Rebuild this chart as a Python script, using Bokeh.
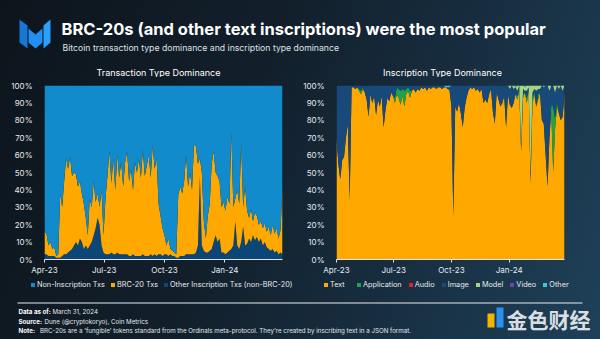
import pandas as pd
from bokeh.plotting import figure
from bokeh.models import (ColumnDataSource, Range1d, FixedTicker, PrintfTickFormatter,
                          DatetimeTickFormatter, Legend, LegendItem)
from bokeh.layouts import column, row
from bokeh.embed import file_html
from bokeh.resources import INLINE
from bokeh.core.properties import value

FONT = "Inter"
TXT = "#e6eaee"

# ---------------- data (one sample every 3 days from 2023-04-01) ----------------
START_DATE = "2023-04-01"
STEP = "3D"

# Transaction type dominance (% of all Bitcoin transactions)
other_insc_txs = [
    3, 3, 2, 2, 2, 2, 1, 1, 1, 2,
    3, 3, 4, 5, 6, 8, 10, 8, 12, 10,
    6, 8, 6, 8, 10, 14, 18, 24, 20, 8,
    4, 3, 3, 3, 4, 3, 3, 4, 3, 3,
    3, 3, 3, 2, 2, 3, 2, 2, 2, 2,
    3, 2, 2, 2, 3, 2, 3, 2, 3, 3,
    2, 3, 3, 2, 3, 2, 2, 1, 1, 2,
    2, 2, 3, 3, 3, 3, 3, 4, 8, 48,
    8, 5, 4, 4, 5, 6, 10, 14, 10, 12,
    4, 4, 3, 4, 5, 6, 8, 22, 8, 6,
    10, 19, 8, 9, 12, 10, 14, 11, 13, 10,
    12, 8, 10, 7, 6, 5, 6, 4, 5, 3,
    4, 3]
brc20_txs = [
    13, 12, 6, 8, 4, 5, 1, 2, 37, 28,
    42, 55, 48, 54, 42, 42, 39, 34, 33, 28,
    26, 16, 8, 27, 20, 31, 15, 14, 10, 32,
    10, 32, 45, 59, 40, 55, 37, 56, 44, 53,
    39, 53, 59, 43, 50, 37, 54, 48, 56, 45,
    60, 46, 52, 58, 44, 64, 49, 56, 29, 22,
    16, 11, 5, 10, 3, 3, 2, 2, 36, 40,
    36, 43, 57, 39, 47, 37, 63, 61, 47, 10,
    42, 17, 8, 21, 27, 49, 52, 36, 38, 33,
    26, 29, 25, 32, 27, 67, 22, 13, 32, 26,
    57, 11, 34, 19, 12, 19, 8, 16, 12, 10,
    10, 10, 11, 9, 13, 9, 14, 11, 13, 9,
    13, 39]

# Inscription type dominance (% of inscriptions)
text_insc = [
    70, 55, 46, 57, 59, 70, 78, 34, 99, 99,
    98, 99, 97, 95, 98, 96, 92, 82, 95, 90,
    94, 83, 92, 88, 94, 76, 86, 93, 91, 96,
    94, 90, 95, 93, 89, 94, 88, 95, 97, 93,
    97, 98, 96, 98, 97, 99, 98, 99, 97, 99,
    98, 99, 99, 98, 99, 99, 98, 99, 99, 98,
    97, 88, 25, 88, 85, 90, 84, 76, 87, 93,
    97, 99, 98, 99, 97, 98, 96, 98, 90, 92,
    90, 95, 98, 85, 78, 96, 92, 88, 90, 94,
    76, 95, 89, 87, 90, 95, 92, 97, 62, 93,
    96, 90, 97, 44, 90, 95, 88, 92, 96, 80,
    78, 60, 42, 70, 85, 50, 75, 88, 84, 80,
    82, 95]
application_insc = [
    0, 0, 0, 0, 0, 0, 0, 0, 0, 0,
    0, 0, 1, 2, 1, 0, 0, 0, 0, 0,
    0, 0, 0, 0, 0, 0, 0, 0, 0, 0,
    0, 3, 4, 5, 8, 4, 9, 3, 2, 4,
    0, 0, 0, 0, 0, 0, 0, 0, 0, 0,
    0, 0, 0, 0, 0, 0, 0, 0, 0, 0,
    1, 0, 0, 0, 0, 0, 0, 0, 0, 0,
    0, 0, 0, 0, 0, 0, 0, 0, 0, 0,
    0, 0, 0, 0, 0, 0, 0, 0, 0, 0,
    0, 0, 0, 0, 0, 0, 2, 1, 0, 2,
    0, 3, 0, 0, 2, 2, 0, 3, 0, 0,
    0, 0, 0, 0, 4, 38, 6, 3, 0, 0,
    0, 0]
audio_insc = [
    0, 0, 0, 0, 0, 0, 0, 0, 0, 0,
    0, 0, 0, 0, 0, 0, 0, 0, 0, 0,
    0, 0, 0, 0, 0, 0, 0, 0, 0, 0,
    0, 0, 0, 0, 0, 0, 0, 0, 0, 0,
    0, 0, 0, 0, 0, 0, 0, 0, 0, 0,
    0, 0, 0, 0, 0, 0, 0, 0, 0, 0,
    0, 0, 0, 0, 0, 0, 0, 0, 0, 0,
    0, 0, 0, 0, 0, 0, 0, 0, 0, 0,
    0, 0, 0, 0, 0, 0, 0, 0, 0, 0,
    0, 0, 0, 0, 0, 0, 0, 0, 0, 0,
    0, 0, 0, 0, 0, 0, 0, 0, 0, 0,
    0, 0, 0, 0, 0, 0, 0, 0, 0, 0,
    0, 0]
model_insc = [
    0, 0, 0, 0, 0, 0, 0, 0, 0, 0,
    0, 0, 0, 0, 0, 0, 0, 0, 0, 0,
    0, 0, 0, 0, 0, 0, 0, 0, 0, 0,
    0, 0, 0, 0, 0, 0, 0, 0, 0, 0,
    0, 0, 0, 0, 0, 0, 0, 0, 0, 0,
    0, 0, 0, 0, 0, 0, 0, 0, 0, 0,
    0, 0, 0, 0, 0, 0, 0, 0, 0, 0,
    0, 0, 0, 0, 0, 0, 0, 0, 0, 0,
    0, 0, 0, 0, 0, 0, 0, 0, 0, 0,
    0, 0, 2, 0, 2, 0, 3, 0, 34, 2,
    2, 3, 1, 50, 4, 2, 3, 2, 2, 0,
    0, 0, 0, 3, 0, 0, 4, 0, 2, 0,
    3, 0]
video_insc = [
    0, 0, 0, 0, 0, 0, 0, 0, 0, 0,
    0, 0, 0, 0, 0, 0, 0, 0, 0, 0,
    0, 0, 0, 0, 0, 0, 0, 0, 0, 0,
    0, 0, 0, 0, 0, 0, 0, 0, 0, 0,
    0, 0, 0, 0, 0, 0, 0, 0, 0, 0,
    0, 0, 0, 0, 0, 0, 0, 0, 0, 0,
    0, 0, 0, 0, 0, 0, 0, 0, 0, 0,
    0, 0, 0, 0, 0, 0, 0, 0, 0, 0,
    0, 0, 0, 0, 0, 0, 0, 0, 0, 0,
    0, 0, 0, 0, 0, 0, 0, 0, 0, 0,
    0, 0, 0, 0, 0, 0, 0, 0, 0, 0,
    0, 0, 0, 0, 0, 0, 0, 0, 0, 0,
    0, 0]
other_insc = [
    0, 0, 0, 0, 0, 0, 0, 0, 0, 0,
    0, 0, 0, 0, 0, 0, 0, 0, 0, 0,
    0, 0, 0, 0, 0, 0, 0, 0, 0, 0,
    0, 0, 0, 0, 0, 0, 0, 0, 0, 0,
    0, 0, 0, 0, 0, 0, 0, 0, 0, 0,
    0, 0, 0, 0, 0, 0, 0, 0, 1, 1,
    1, 0, 0, 0, 0, 0, 0, 0, 0, 0,
    0, 0, 0, 0, 0, 0, 0, 0, 0, 0,
    0, 0, 0, 0, 0, 0, 0, 0, 0, 0,
    0, 0, 0, 0, 0, 1, 0, 0, 0, 0,
    1, 0, 0, 0, 0, 0, 0, 0, 0, 0,
    1, 0, 0, 0, 0, 0, 0, 0, 0, 0,
    0, 0]

tick_dates = ["2023-04-01", "2023-07-01", "2023-10-01", "2024-01-01"]
tick_labels = ["Apr-23", "Jul-23", "Oct-23", "Jan-24"]
y_ticks = [0, 10, 20, 30, 40, 50, 60, 70, 80, 90, 100]

chart_titles = ["Transaction Type Dominance", "Inscription Type Dominance"]
tx_labels = ["Non-Inscription Txs", "BRC-20 Txs", "Other Inscription Txs (non-BRC-20)"]
tx_colors = ["#118bcb", "#ffa800", "#0c4677"]          # in legend order
insc_labels = ["Text", "Application", "Audio", "Image", "Model", "Video", "Other"]
insc_colors = ["#ffa800", "#1fa34a", "#e3201c", "#174a7a", "#a6d67c", "#6f44a8", "#3cc4de"]

# ---------------- derived columns ----------------
N = len(brc20_txs)
dates = pd.date_range(START_DATE, periods=N, freq=STEP)
non_insc_txs = [100 - a - b for a, b in zip(brc20_txs, other_insc_txs)]
image_insc = [100 - t - a - au - m - v - o for t, a, au, m, v, o in
              zip(text_insc, application_insc, audio_insc, model_insc, video_insc, other_insc)]

src_tx = ColumnDataSource(dict(date=dates, other=other_insc_txs, brc=brc20_txs, non=non_insc_txs))
src_in = ColumnDataSource(dict(date=dates, Text=text_insc, Application=application_insc,
                               Audio=audio_insc, Image=image_insc, Model=model_insc,
                               Video=video_insc, Other=other_insc))

tick_ms = [float(pd.Timestamp(d).value // 10**6) for d in tick_dates]

HDR_H = 77
CHART_H = 278 - HDR_H


def make_chart(width, border_left, border_right):
    p = figure(width=width, height=CHART_H, x_axis_type="datetime",
               x_range=Range1d(dates[0], dates[-1]), y_range=Range1d(0, 100),
               output_backend="svg", toolbar_location=None,
               min_border_left=border_left, min_border_right=border_right,
               min_border_top=85 - HDR_H, min_border_bottom=19,
               background_fill_alpha=0, border_fill_alpha=0, outline_line_color=None)
    p.grid.visible = False
    xa = p.xaxis[0]
    xa.ticker = FixedTicker(ticks=tick_ms)
    xa.formatter = DatetimeTickFormatter(days="%b-%y", months="%b-%y", years="%b-%y")
    xa.major_label_overrides = {t: l for t, l in zip(tick_ms, tick_labels)}
    xa.axis_line_color = "#dfe4e8"
    xa.major_tick_line_color = "#dfe4e8"
    xa.major_tick_out = 3
    xa.major_tick_in = 0
    xa.minor_tick_line_color = None
    xa.major_label_standoff = 2
    xa.major_label_text_font = FONT
    xa.major_label_text_font_size = "8px"
    xa.major_label_text_color = TXT
    ya = p.yaxis[0]
    ya.ticker = FixedTicker(ticks=y_ticks)
    ya.formatter = PrintfTickFormatter(format="%d%%")
    ya.axis_line_color = None
    ya.major_tick_line_color = None
    ya.minor_tick_line_color = None
    ya.major_label_standoff = 6
    ya.major_label_text_font = FONT
    ya.major_label_text_font_size = "8px"
    ya.major_label_text_color = TXT
    return p


# left chart
pl = make_chart(300, 44, 18)
pl.varea_stack(stackers=["other", "brc", "non"], x="date", source=src_tx,
               color=[tx_colors[2], tx_colors[1], tx_colors[0]])

# right chart
pr = make_chart(300, 31, 36)
pr.varea_stack(stackers=insc_labels, x="date", source=src_in, color=insc_colors)

# header (title, subtitle, logo, chart titles)
hdr = figure(width=600, height=HDR_H, x_range=Range1d(0, 600), y_range=Range1d(HDR_H, 0),
             output_backend="svg", toolbar_location=None, min_border=0,
             x_axis_location=None, y_axis_location=None,
             background_fill_alpha=0, border_fill_alpha=0, outline_line_color=None)
hdr.grid.visible = False
hdr.patches(xs=[[19, 27, 27, 19], [28, 35, 42, 42, 35, 28], [43, 50, 50, 43]],
            ys=[[19, 25, 48, 42], [28, 34, 28, 42, 48, 42], [25, 19, 42, 48]],
            color=["#1677d6", "#1f8ff0", "#2aa0ff"], line_color=None)
hdr.text(x=[61], y=[28], text=["BRC-20s (and other text inscriptions) were the most popular"],
         text_font=value(FONT), text_font_style="bold", text_font_size="16.5px",
         text_color="white", text_baseline="middle")
hdr.text(x=[62], y=[47], text=["Bitcoin transaction type dominance and inscription type dominance"],
         text_font=value(FONT), text_font_size="8.7px", text_color="#dde3e8",
         text_baseline="middle")
hdr.text(x=[158, 442], y=[71.5, 71.5], text=chart_titles,
         text_font=value(FONT), text_font_size="9px", text_color="white",
         text_align="center", text_baseline="middle")

# footer (legends + notes)
FTR_TOP = 278
ftr = figure(width=600, height=339 - FTR_TOP, x_range=Range1d(0, 600), y_range=Range1d(339, FTR_TOP),
             output_backend="svg", toolbar_location=None, min_border=0,
             x_axis_location=None, y_axis_location=None,
             background_fill_alpha=0, border_fill_alpha=0, outline_line_color=None)
ftr.grid.visible = False

# legend keys: one-row area renderers kept outside the visible range, carrying each colour
tx_keys = [ftr.varea(x=[-20, -10], y1=[400, 400], y2=[410, 410], color=c) for c in tx_colors]
in_keys = [ftr.varea(x=[-20, -10], y1=[400, 400], y2=[410, 410], color=c) for c in insc_colors]


def make_legend(labels, keys, loc, spacing):
    return Legend(items=[LegendItem(label=l, renderers=[k]) for l, k in zip(labels, keys)],
                  orientation="horizontal", location=loc,
                  label_text_font=FONT, label_text_font_size="7.3px", label_text_color=TXT,
                  glyph_width=5, glyph_height=5, label_standoff=2, spacing=spacing,
                  label_height=9, padding=0, margin=0,
                  background_fill_alpha=0, border_line_alpha=0)


ftr.add_layout(make_legend(tx_labels, tx_keys, (30, 50), 5))
ftr.add_layout(make_legend(insc_labels, in_keys, (323, 50), 6))

ftr.segment(x0=[17], y0=[302.5], x1=[582], y1=[302.5], line_color="#e8ecef", line_width=1.2)
ftr.text(x=[18, 18, 18], y=[311, 320.5, 330], text=["Data as of:", "Source:", "Note:"],
         text_font=value(FONT), text_font_style="bold", text_font_size="6.2px",
         text_color="white", text_baseline="middle")
ftr.text(x=[52, 44, 39.5], y=[311, 320.5, 330],
         text=["March 31, 2024", "Dune (@cryptokoryo), Coin Metrics",
               "BRC-20s are a 'fungible' tokens standard from the Ordinals meta-protocol. "
               "They're created by inscribing text in a JSON format."],
         text_font=value(FONT), text_font_size="6.2px", text_color="#e3e8ec",
         text_baseline="middle")
ftr.quad(left=[487, 496], right=[494, 503], top=[313, 307], bottom=[327, 327],
         color=["#f5b400", "#2b8ff0"], line_color=None)
ftr.text(x=[590], y=[318], text=["金色财经"], text_font=value("Noto Sans CJK SC"),
         text_font_style="bold", text_font_size="21px", text_color="#f4f6f8",
         text_alpha=0.9, text_align="right", text_baseline="middle")

layout = column(hdr, row(pl, pr), ftr,
                styles={"background": "linear-gradient(110deg, #0d151c 0%, #121f2b 40%, "
                                      "#183043 72%, #1e4159 100%)"})

open("out.html", "w").write(file_html(layout, INLINE))
